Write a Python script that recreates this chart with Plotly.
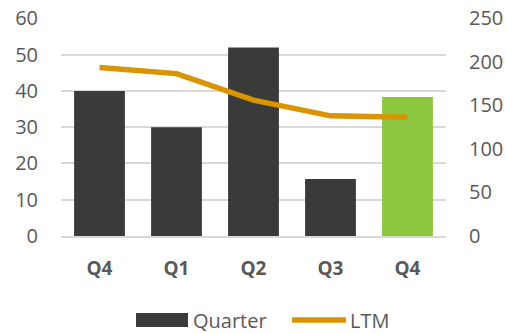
import plotly.graph_objects as go

categories = ["Q4", "Q1", "Q2", "Q3", "Q4 "]
tick_text = ["Q4", "Q1", "Q2", "Q3", "Q4"]
quarter = [40, 30, 52, 15.7, 38.3]
ltm = [193.5, 186.5, 156, 138, 136.5]
bar_colors = ["#3a3a3a", "#3a3a3a", "#3a3a3a", "#3a3a3a", "#8dc63f"]

FONT = "Open Sans"
GREY = "#595959"

fig = go.Figure()
fig.add_trace(go.Bar(
    x=categories, y=quarter, name="Quarter",
    marker=dict(color=bar_colors, line=dict(width=0)),
    yaxis="y", showlegend=False,
))
fig.add_trace(go.Scatter(
    x=categories, y=ltm, name="LTM", mode="lines",
    line=dict(color="#d99400", width=5.5),
    yaxis="y2", showlegend=False,
))

# legend drawn in paper space
L, R, T, B = 61, 60, 18, 97
W, H = 506, 333
pw, ph = W - L - R, H - T - B
def px(x):
    return (x - L) / pw
def py(y):
    return (H - B - y) / ph

shapes = [
    dict(type="rect", xref="paper", yref="paper",
         x0=px(136), x1=px(188), y0=py(327), y1=py(313),
         fillcolor="#3a3a3a", line=dict(width=0)),
    dict(type="line", xref="paper", yref="paper",
         x0=px(292), x1=px(346), y0=py(320), y1=py(320),
         line=dict(color="#d99400", width=5.5)),
]
annotations = [
    dict(text="Quarter", xref="paper", yref="paper", x=px(191), y=py(320),
         xanchor="left", yanchor="middle", showarrow=False,
         font=dict(family=FONT, size=20, color=GREY)),
    dict(text="LTM", xref="paper", yref="paper", x=px(348), y=py(320),
         xanchor="left", yanchor="middle", showarrow=False,
         font=dict(family=FONT, size=20, color=GREY)),
]

fig.update_layout(
    width=W, height=H,
    margin=dict(l=L, r=R, t=T, b=B, autoexpand=False),
    paper_bgcolor="white", plot_bgcolor="white",
    bargap=0.34,
    font=dict(family=FONT, size=20, color=GREY),
    xaxis=dict(
        tickmode="array", tickvals=categories, ticktext=tick_text,
        tickfont=dict(family=FONT, size=19, color=GREY, weight="bold"),
        showgrid=False, showline=True, linecolor="#d9d9d9", linewidth=1.5,
        ticks="", ticklabelstandoff=14, automargin=False,
    ),
    yaxis=dict(
        range=[0, 60.1], tick0=0, dtick=10, showgrid=True, gridcolor="#d9d9d9",
        gridwidth=1.5, zeroline=False, showline=False, ticks="",
        ticklabelstandoff=22, tickfont=dict(family=FONT, size=20, color=GREY),
        automargin=False,
    ),
    yaxis2=dict(
        range=[0, 250.4], tick0=0, dtick=50, overlaying="y", side="right",
        showgrid=False, zeroline=False, showline=False, ticks="",
        ticklabelstandoff=22, tickfont=dict(family=FONT, size=20, color=GREY),
        automargin=False,
    ),
    shapes=shapes, annotations=annotations,
)

fig.write_html("out.html")
